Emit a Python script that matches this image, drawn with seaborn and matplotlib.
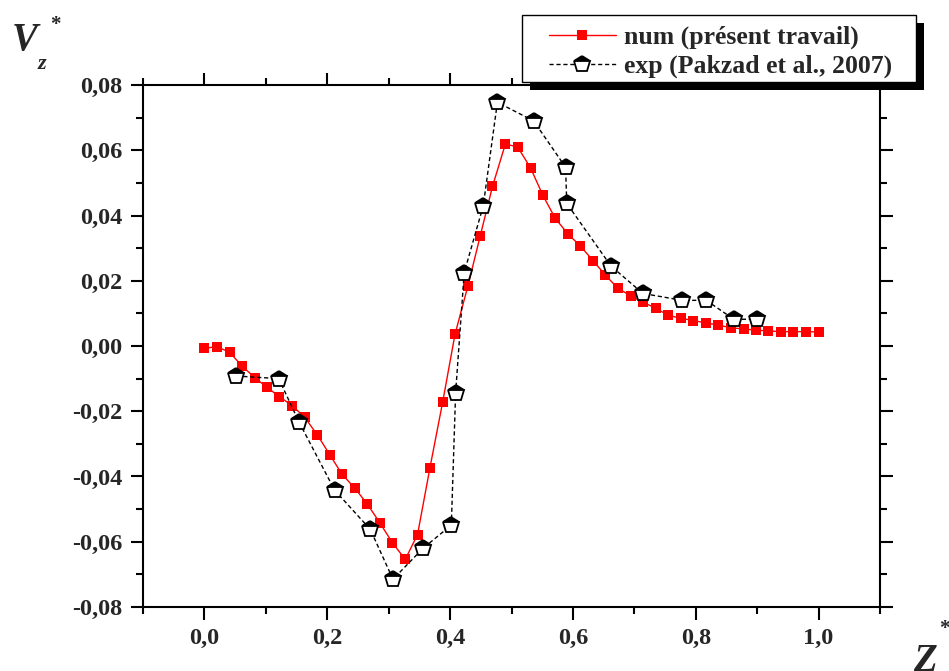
import numpy as np
import pandas as pd
import matplotlib
matplotlib.use('Agg')
import matplotlib.pyplot as plt
import seaborn as sns
from matplotlib.ticker import MultipleLocator, FuncFormatter
from matplotlib.patches import Rectangle

# numerical results (present work)
z_num = [0.000, 0.020, 0.041, 0.061, 0.082, 0.102, 0.122, 0.143, 0.163, 0.184,
         0.204, 0.224, 0.245, 0.265, 0.286, 0.306, 0.327, 0.347, 0.367, 0.388,
         0.408, 0.429, 0.449, 0.469, 0.490, 0.510, 0.531, 0.551, 0.571, 0.592,
         0.612, 0.633, 0.653, 0.673, 0.694, 0.714, 0.735, 0.755, 0.776, 0.796,
         0.816, 0.837, 0.857, 0.878, 0.898, 0.918, 0.939, 0.959, 0.980, 1.000]
v_num = [-0.0007, -0.0002, -0.0019, -0.0061, -0.0097, -0.0127, -0.0155, -0.0183, -0.0218, -0.0273,
         -0.0333, -0.0393, -0.0436, -0.0484, -0.0543, -0.0603, -0.0654, -0.0578, -0.0375, -0.0171,
         0.0036, 0.0184, 0.0337, 0.0489, 0.0619, 0.0610, 0.0546, 0.0462, 0.0392, 0.0343,
         0.0307, 0.0261, 0.0217, 0.0177, 0.0154, 0.0134, 0.0116, 0.0094, 0.0085, 0.0078,
         0.0071, 0.0064, 0.0056, 0.0052, 0.0049, 0.0046, 0.0044, 0.0044, 0.0044, 0.0043]

# experimental data (Pakzad et al., 2007)
z_exp = [0.052, 0.121, 0.154, 0.212, 0.270, 0.307, 0.356, 0.402, 0.409, 0.423,
         0.454, 0.477, 0.536, 0.588, 0.590, 0.662, 0.714, 0.778, 0.817, 0.862, 0.900]
v_exp = [-0.0092, -0.0100, -0.0233, -0.0442, -0.0562, -0.0715, -0.0620, -0.0549, -0.0143, 0.0225,
         0.0430, 0.0747, 0.0690, 0.0548, 0.0437, 0.0245, 0.0161, 0.0140, 0.0140, 0.0082, 0.0082]

sns.set_theme(style='ticks')
plt.rcParams['font.family'] = ['Liberation Serif', 'DejaVu Serif']
plt.rcParams['font.weight'] = 'bold'

fig = plt.figure(figsize=(9.49, 6.71), dpi=100)
ax = fig.add_axes([0.1507, 0.0954, 0.7766, 0.7779])

sns.lineplot(x=z_num, y=v_num, ax=ax, color='red', lw=1, marker='s',
             markersize=7, markeredgewidth=0, label='num (présent travail)')
sns.lineplot(x=z_exp, y=v_exp, ax=ax, color='black', lw=1, dashes=False,
             linestyle=(0, (3, 2)), marker='p', markersize=12, fillstyle='top',
             markerfacecolor='black', markerfacecoloralt='white',
             markeredgecolor='black', markeredgewidth=1.3,
             label='exp (Pakzad et al., 2007)')

ax.set_xlim(-0.1, 1.1)
ax.set_ylim(-0.08, 0.08)
ax.xaxis.set_major_locator(MultipleLocator(0.2))
ax.xaxis.set_minor_locator(MultipleLocator(0.1))
ax.yaxis.set_major_locator(MultipleLocator(0.02))
ax.yaxis.set_minor_locator(MultipleLocator(0.01))
ax.xaxis.set_major_formatter(FuncFormatter(lambda v, p: ('%.1f' % v).replace('.', ',')))
ax.yaxis.set_major_formatter(FuncFormatter(lambda v, p: ('%.2f' % (0 if abs(v) < 1e-9 else v)).replace('.', ',')))

for s in ax.spines.values():
    s.set_visible(True)
    s.set_linewidth(1.5)
    s.set_color('black')
ax.tick_params(which='both', direction='out', top=True, right=True,
               labeltop=False, labelright=False, color='black', width=1.5)
ax.tick_params(which='major', length=9, labelsize=17.5, pad=6)
ax.tick_params(which='minor', length=5)
for lab in ax.get_xticklabels() + ax.get_yticklabels():
    lab.set_fontweight('bold')
ax.set_xlabel('')
ax.set_ylabel('')

# legend (no own frame) + hand drawn frame with a solid black shadow
leg = ax.legend(loc='upper left', bbox_to_anchor=(549 / 949, 1 - 26 / 671), bbox_transform=fig.transFigure,
                frameon=False,
                prop={'family': 'Liberation Serif', 'weight': 'bold', 'size': 18.5},
                handlelength=2.6, borderpad=0, labelspacing=0.22, handletextpad=0.3,
                borderaxespad=0)
leg.set_zorder(10)
W, H = 949, 671
x0, x1, y0, y1 = 522, 916, 15, 82
ax.add_artist(Rectangle((x0 / W + 8 / W, 1 - (y1 + 8) / H), (x1 - x0) / W, (y1 - y0) / H,
                        transform=fig.transFigure, facecolor='black', edgecolor='none',
                        zorder=8, clip_on=False))
ax.add_artist(Rectangle((x0 / W, 1 - y1 / H), (x1 - x0) / W, (y1 - y0) / H,
                        transform=fig.transFigure, facecolor='white', edgecolor='black',
                        lw=1.0, zorder=9, clip_on=False))

# axis titles
fig.text(0.012, 0.925, 'V', fontsize=28, fontweight='bold', style='italic', family='Liberation Serif')
fig.text(0.040, 0.897, 'z', fontsize=16, fontweight='bold', style='italic', family='Liberation Serif')
fig.text(0.053, 0.955, '*', fontsize=15, fontweight='bold', family='Liberation Serif')
fig.text(0.962, 0.0, 'Z', fontsize=28, fontweight='bold', style='italic', family='Liberation Serif')
fig.text(0.990, 0.055, '*', fontsize=15, fontweight='bold', family='Liberation Serif')

fig.savefig('out.png', dpi=100, facecolor='white')
